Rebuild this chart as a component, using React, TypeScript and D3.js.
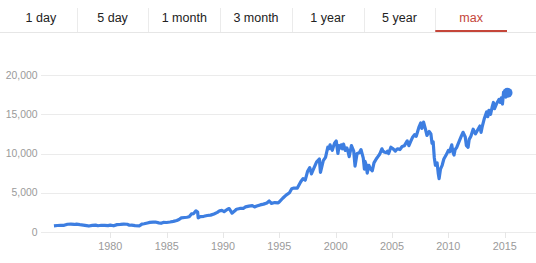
import React from "react";
import * as d3 from "d3";

const tabs = ["1 day", "5 day", "1 month", "3 month", "1 year", "5 year", "max"];
const activeTab = "max";
const yTicks = [0, 5000, 10000, 15000, 20000];
const xTicks = [1980, 1985, 1990, 1995, 2000, 2005, 2010, 2015];

const dates = [
  1975.0, 1975.3, 1975.6, 1975.9, 1976.2, 1976.5, 1976.8, 1977.0, 1977.3, 1977.6, 1977.9,
  1978.1, 1978.4, 1978.7, 1978.9, 1979.2, 1979.5, 1979.8, 1980.0, 1980.3, 1980.6, 1980.9,
  1981.2, 1981.5, 1981.7, 1981.9, 1982.2, 1982.6, 1982.8, 1983.0, 1983.3, 1983.5, 1983.8,
  1984.0, 1984.3, 1984.5, 1984.7, 1985.0, 1985.3, 1985.6, 1985.9, 1986.1, 1986.3, 1986.6,
  1986.8, 1987.0, 1987.2, 1987.4, 1987.6, 1987.75, 1987.8, 1988.0, 1988.3, 1988.6, 1988.9,
  1989.2, 1989.5, 1989.7, 1989.9, 1990.1, 1990.4, 1990.55, 1990.8, 1991.0, 1991.2, 1991.5,
  1991.8, 1992.0, 1992.3, 1992.6, 1992.8, 1993.0, 1993.3, 1993.6, 1993.9, 1994.1, 1994.3,
  1994.6, 1994.9, 1995.0, 1995.3, 1995.6, 1995.9, 1996.1, 1996.3, 1996.6, 1996.9, 1997.1,
  1997.3, 1997.5, 1997.7, 1997.85, 1998.0, 1998.3, 1998.55, 1998.65, 1998.9, 1999.1, 1999.3,
  1999.4, 1999.5, 1999.6, 1999.7, 1999.8, 1999.9, 2000.05, 2000.2, 2000.3, 2000.4, 2000.5,
  2000.6, 2000.7, 2000.85, 2001.0, 2001.1, 2001.2, 2001.4, 2001.6, 2001.72, 2001.9,
  2002.1, 2002.25, 2002.45, 2002.55, 2002.6, 2002.7, 2002.8, 2002.95,
  2003.1, 2003.25, 2003.4, 2003.6, 2003.75, 2003.9, 2004.1, 2004.2, 2004.3, 2004.5, 2004.6, 2004.7, 2004.9, 2005.1,
  2005.3, 2005.4, 2005.5, 2005.7, 2005.8, 2005.9, 2006.1, 2006.35, 2006.5, 2006.65, 2006.8, 2007.0, 2007.15, 2007.4,
  2007.55, 2007.65, 2007.8, 2007.95, 2008.1, 2008.3, 2008.45, 2008.55, 2008.65, 2008.75, 2008.85,
  2009.0, 2009.1, 2009.18, 2009.3, 2009.45, 2009.6, 2009.8, 2010.0, 2010.1, 2010.3, 2010.4,
  2010.5, 2010.6, 2010.75, 2010.95, 2011.15, 2011.3, 2011.5, 2011.6, 2011.75, 2011.85, 2012.0,
  2012.2, 2012.4, 2012.6, 2012.8, 2012.9, 2013.0, 2013.2, 2013.4, 2013.5, 2013.6, 2013.75,
  2013.9, 2014.0, 2014.1, 2014.3, 2014.5, 2014.6, 2014.7, 2014.8, 2014.9, 2015.0, 2015.1,
  2015.2, 2015.25,
];

const values = [
  780, 830, 840, 850, 990, 1000, 960, 1000, 930, 880, 820,
  760, 840, 880, 800, 860, 840, 810, 870, 790, 940, 960,
  1000, 990, 860, 880, 820, 790, 1000, 1050, 1150, 1220, 1250,
  1270, 1160, 1110, 1220, 1210, 1270, 1350, 1470, 1600, 1800, 1850,
  1880, 1950, 2300, 2350, 2700, 2550, 1800, 1950, 2000, 2100, 2150,
  2300, 2500, 2700, 2750, 2600, 2900, 2990, 2400, 2630, 2900, 3000,
  3000, 3200, 3300, 3350, 3200, 3300, 3450, 3550, 3700, 3950, 3650,
  3750, 3700, 3850, 4300, 4700, 5000, 5500, 5600, 5600, 6400, 6800,
  6600, 7700, 8200, 7400, 7900, 8900, 9300, 7600, 9100, 9500, 10800,
  10600, 11100, 10700, 10400, 10900, 11300, 11600, 10000, 11000, 10700, 11100,
  10600, 11200, 10400, 10700, 10200, 9600, 11000, 10300, 8400, 10000,
  10100, 10500, 9400, 8000, 9000, 8600, 7500, 8500,
  8000, 7800, 8800, 9300, 9600, 9900, 10600, 10300, 10200, 10100, 10300, 10000, 10800, 10600,
  10300, 10500, 10600, 10500, 10700, 10900, 11000, 11600, 11000, 11500, 12000, 12400, 12200, 13400,
  13900, 13200, 14000, 13200, 12300, 12800, 12500, 11300, 11500, 9500, 8500,
  8800, 7500, 6800, 8000, 8500, 9300, 9800, 10400, 10200, 11100, 10200,
  9800, 10500, 10800, 11500, 12200, 12700, 12100, 11000, 10800, 11800, 12200,
  13100, 12500, 13000, 13500, 12700, 13400, 14500, 15300, 14700, 15500, 15000,
  16000, 16500, 15700, 16400, 16900, 16500, 17100, 16300, 17800, 17500, 17200,
  17900, 17750,
];

const W = 536;
const H = 263;
const font = "'Liberation Sans', Arial, sans-serif";

export default function App() {
  const x = d3.scaleLinear().domain([1980, 2015]).range([110.3, 504.7]);
  const y = d3.scaleLinear().domain([0, 20000]).range([232, 75]);
  const pts = dates.map((d, i) => [d, values[i]] as [number, number]);
  const line = d3
    .line<[number, number]>()
    .x((d) => x(d[0]))
    .y((d) => y(d[1]))
    .curve(d3.curveLinear);
  const last = pts[pts.length - 1];
  const tabX = d3.scaleBand<string>().domain(tabs).range([5, 507]);

  return (
    <svg
      width={W}
      height={H}
      style={{ position: "absolute", left: 0, top: 0, background: "#fff" }}
      fontFamily={font}
    >
      {/* tabs */}
      <line x1={0} x2={W} y1={32.5} y2={32.5} stroke="#e6e6e6" strokeWidth={1} />
      {tabs.map((t, i) => {
        const x0 = tabX(t)!;
        const bw = tabX.bandwidth();
        return (
          <g key={t}>
            {i > 0 && (
              <line x1={Math.round(x0) + 0.5} x2={Math.round(x0) + 0.5} y1={8} y2={32} stroke="#ebebeb" />
            )}
            <text
              x={x0 + bw / 2}
              y={21.5}
              textAnchor="middle"
              fontSize={12.5}
              fill={t === activeTab ? "#c5463a" : "#222"}
            >
              {t}
            </text>
            {t === activeTab && (
              <rect x={x0} y={30} width={bw} height={2} fill="#c5463a" />
            )}
          </g>
        );
      })}

      {/* grid */}
      {yTicks.map((v) => (
        <g key={v}>
          <line x1={41} x2={W} y1={Math.round(y(v)) + 0.5} y2={Math.round(y(v)) + 0.5} stroke="#ebebeb" />
          <text x={37.5} y={y(v) + 3.6} textAnchor="end" fontSize={10.4} fill="#9a9a9a">
            {d3.format(",")(v)}
          </text>
        </g>
      ))}
      {xTicks.map((t) => (
        <g key={t}>
          <line x1={Math.round(x(t)) + 0.5} x2={Math.round(x(t)) + 0.5} y1={232} y2={238} stroke="#e6e6e6" />
          <text x={x(t)} y={250} textAnchor="middle" fontSize={10.8} fill="#9a9a9a">
            {t}
          </text>
        </g>
      ))}

      <path d={line(pts) || ""} fill="none" stroke="#3d7ee1" strokeWidth={3.2} strokeLinejoin="round" />
      <circle cx={x(last[0])} cy={y(last[1])} r={5} fill="#3d7ee1" />
    </svg>
  );
}
